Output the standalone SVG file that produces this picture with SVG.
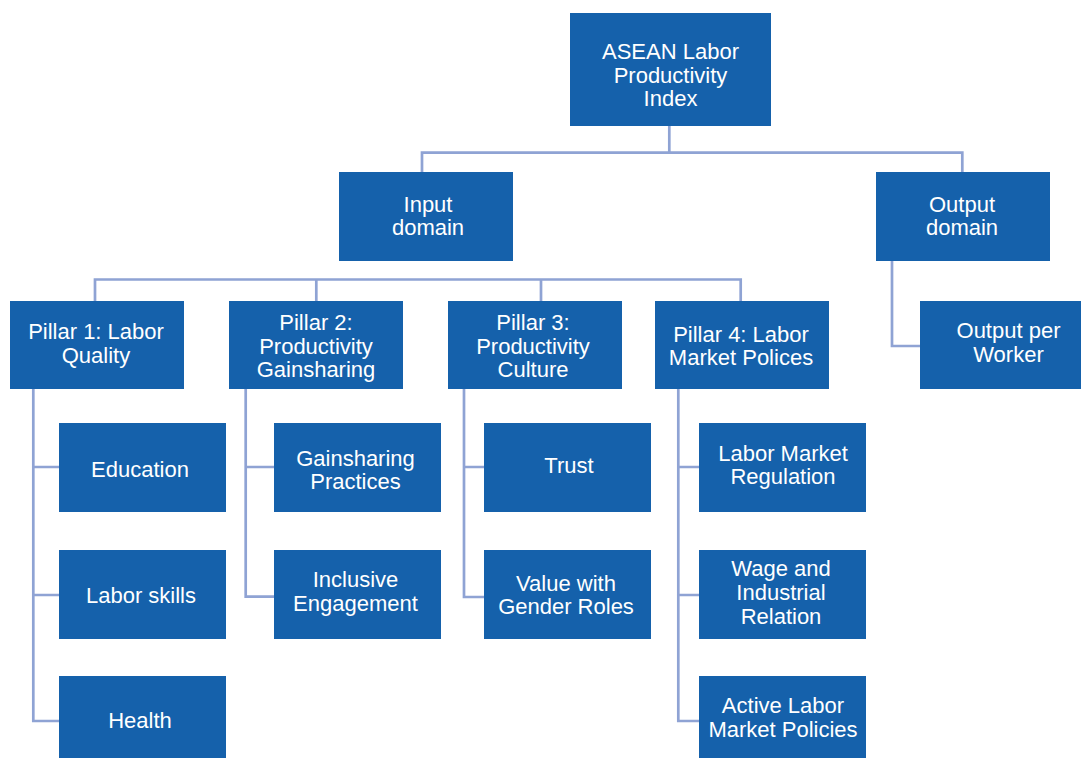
<svg xmlns="http://www.w3.org/2000/svg" width="1081" height="758" viewBox="0 0 1081 758">
  <style>
    .box { fill: #1561ab; }
    .lbl { fill: #ffffff; font-family: "Liberation Sans", Arial, sans-serif; font-size: 22px; text-anchor: middle; }
    .wire { fill: none; stroke: #8fa3d4; stroke-width: 2.7; }
  </style>
  <rect width="1081" height="758" fill="#ffffff"/>

  <!-- connectors -->
  <g id="connectors" class="wire">
    <path d="M669.3 117 V152.7 M422 172 V152.7 H962.3 V172"/>
    <path d="M95 301 V279.5 H740.7 V301 M316.3 279.5 V301 M541 279.5 V301"/>
    <path d="M892 261 V346 H920"/>
    <path d="M33.3 389 V721 H59 M33.3 467 H59 M33.3 595 H59"/>
    <path d="M245.7 389 V596.7 H274 M245.7 467 H274"/>
    <path d="M464 389 V597 H484 M464 467 H484"/>
    <path d="M678.3 389 V721 H699 M678.3 467 H699 M678.3 595 H699"/>
  </g>

  <!-- top -->
  <g id="asean-index">
    <rect class="box" x="570" y="13" width="201" height="113"/>
    <text class="lbl" x="670.5" y="59">ASEAN Labor</text>
    <text class="lbl" x="670.5" y="82.7">Productivity</text>
    <text class="lbl" x="670.5" y="106.4">Index</text>
  </g>

  <!-- domains -->
  <g id="input-domain">
    <rect class="box" x="339" y="172" width="174" height="89"/>
    <text class="lbl" x="428" y="212">Input</text>
    <text class="lbl" x="428" y="235.3">domain</text>
  </g>
  <g id="output-domain">
    <rect class="box" x="876" y="172" width="174" height="89"/>
    <text class="lbl" x="962" y="212">Output</text>
    <text class="lbl" x="962" y="235.3">domain</text>
  </g>

  <!-- pillars -->
  <g id="pillar-1">
    <rect class="box" x="10" y="301" width="174" height="88"/>
    <text class="lbl" x="96" y="339.3">Pillar 1: Labor</text>
    <text class="lbl" x="96" y="362.7">Quality</text>
  </g>
  <g id="pillar-2">
    <rect class="box" x="229" y="301" width="174" height="88"/>
    <text class="lbl" x="316" y="330">Pillar 2:</text>
    <text class="lbl" x="316" y="353.5">Productivity</text>
    <text class="lbl" x="316" y="377.3">Gainsharing</text>
  </g>
  <g id="pillar-3">
    <rect class="box" x="448" y="301" width="174" height="88"/>
    <text class="lbl" x="533" y="330">Pillar 3:</text>
    <text class="lbl" x="533" y="353.5">Productivity</text>
    <text class="lbl" x="533" y="377.3">Culture</text>
  </g>
  <g id="pillar-4">
    <rect class="box" x="655" y="301" width="174" height="88"/>
    <text class="lbl" x="741" y="341.7">Pillar 4: Labor</text>
    <text class="lbl" x="741" y="365">Market Polices</text>
  </g>
  <g id="output-per-worker">
    <rect class="box" x="920" y="301" width="165" height="88"/>
    <text class="lbl" x="1008.5" y="338.3">Output per</text>
    <text class="lbl" x="1008.5" y="361.7">Worker</text>
  </g>

  <!-- pillar 1 items -->
  <g id="education">
    <rect class="box" x="59" y="423" width="167" height="89"/>
    <text class="lbl" x="140" y="477">Education</text>
  </g>
  <g id="labor-skills">
    <rect class="box" x="59" y="550" width="167" height="89"/>
    <text class="lbl" x="141" y="602.7">Labor skills</text>
  </g>
  <g id="health">
    <rect class="box" x="59" y="676" width="167" height="82"/>
    <text class="lbl" x="140" y="728.3">Health</text>
  </g>

  <!-- pillar 2 items -->
  <g id="gainsharing-practices">
    <rect class="box" x="274" y="423" width="167" height="89"/>
    <text class="lbl" x="355.5" y="466">Gainsharing</text>
    <text class="lbl" x="355.5" y="489.3">Practices</text>
  </g>
  <g id="inclusive-engagement">
    <rect class="box" x="274" y="550" width="167" height="89"/>
    <text class="lbl" x="355.5" y="586.7">Inclusive</text>
    <text class="lbl" x="355.5" y="610.7">Engagement</text>
  </g>

  <!-- pillar 3 items -->
  <g id="trust">
    <rect class="box" x="484" y="423" width="167" height="89"/>
    <text class="lbl" x="569" y="472.7">Trust</text>
  </g>
  <g id="value-gender-roles">
    <rect class="box" x="484" y="550" width="167" height="89"/>
    <text class="lbl" x="566" y="590.7">Value with</text>
    <text class="lbl" x="566" y="614">Gender Roles</text>
  </g>

  <!-- pillar 4 items -->
  <g id="labor-market-regulation">
    <rect class="box" x="699" y="423" width="167" height="89"/>
    <text class="lbl" x="783" y="461">Labor Market</text>
    <text class="lbl" x="783" y="484.3">Regulation</text>
  </g>
  <g id="wage-industrial-relation">
    <rect class="box" x="699" y="550" width="167" height="89"/>
    <text class="lbl" x="781" y="576">Wage and</text>
    <text class="lbl" x="781" y="600">Industrial</text>
    <text class="lbl" x="781" y="624.3">Relation</text>
  </g>
  <g id="active-labor-market-policies">
    <rect class="box" x="699" y="676" width="167" height="82"/>
    <text class="lbl" x="783" y="713.3">Active Labor</text>
    <text class="lbl" x="783" y="736.7">Market Policies</text>
  </g>
</svg>
